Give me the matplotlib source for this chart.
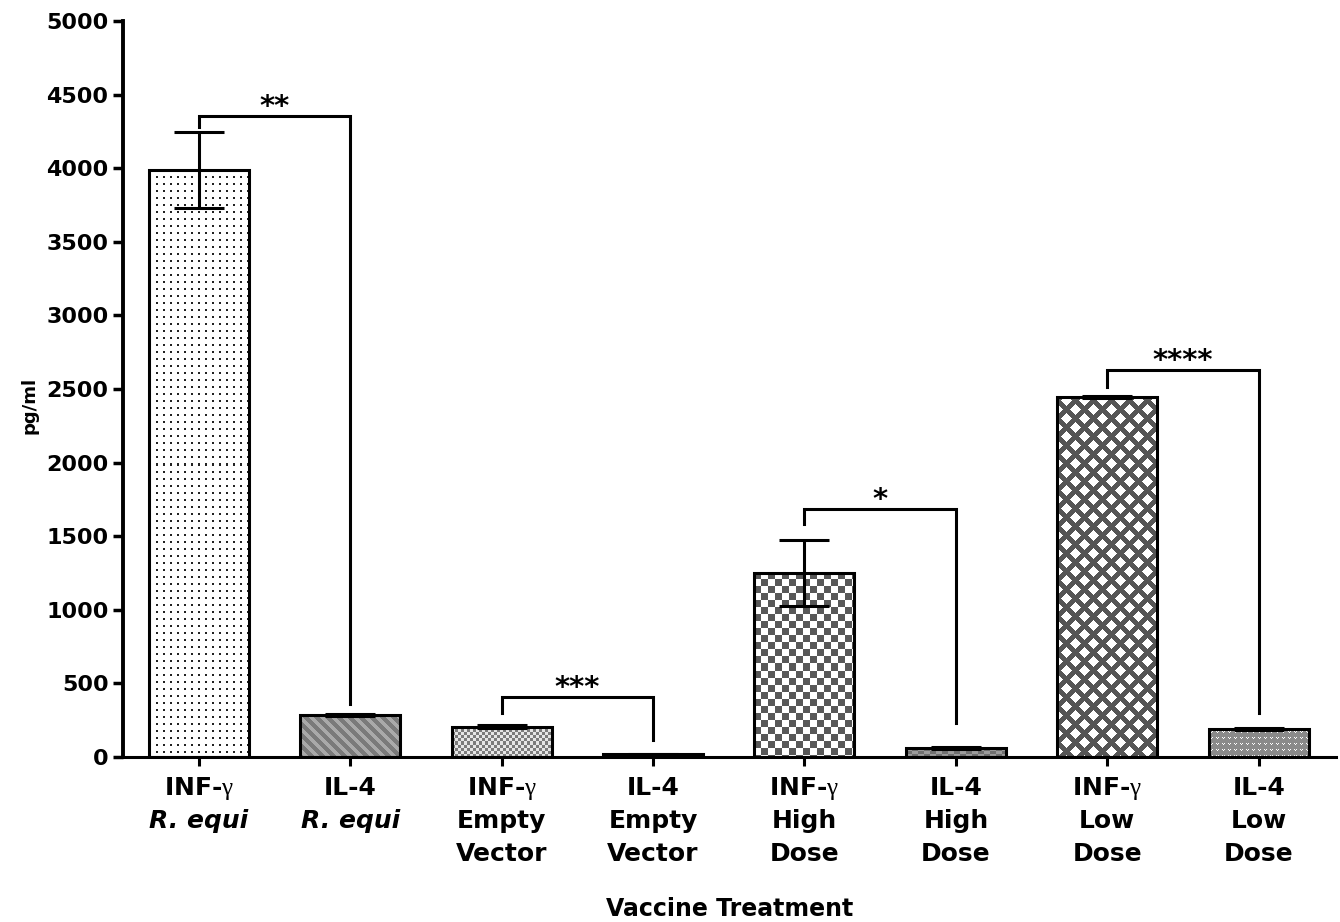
import numpy as np
import matplotlib
matplotlib.use('Agg')
import matplotlib.pyplot as plt

plt.rcParams['font.family'] = ['DejaVu Sans']
plt.rcParams['mathtext.fontset'] = 'custom'
plt.rcParams['mathtext.rm'] = 'Liberation Serif'

# data
cytokines = ['INF-$\\mathrm{\\gamma}$', 'IL-4'] * 4
treatments = ['R. equi', 'R. equi', 'Empty\nVector', 'Empty\nVector',
              'High\nDose', 'High\nDose', 'Low\nDose', 'Low\nDose']
italic_treatment = [True, True, False, False, False, False, False, False]
values = [3990, 285, 205, 18, 1250, 60, 2445, 190]
errors = [258, 8, 10, 4, 225, 6, 8, 8]
patterns = ['dots', 'stripes', 'finechecker', 'smallgray',
            'checker', 'smallgray', 'diamond', 'vdots']

# significance brackets
sig_left = [0, 2, 4, 6]
sig_right = [1, 3, 5, 7]
sig_top = [4355, 408, 1685, 2630]
sig_left_end = [4280, 299, 1583, 2514]
sig_right_end = [360, 115, 231, 300]
sig_text = ['**', '***', '*', '****']

yticks = np.arange(0, 5001, 500)

W, H, DPI = 1340, 922, 100
fig = plt.figure(figsize=(W / DPI, H / DPI), dpi=DPI)
ax_l, ax_b, ax_w, ax_h = 123 / W, 165 / H, 1213 / W, 736 / H
ax = fig.add_axes([ax_l, ax_b, ax_w, ax_h])
xlim = (-0.5, 7.51)
ylim = (0, 5000)
ax.set_xlim(*xlim)
ax.set_ylim(*ylim)

px_x = ax_w * W / (xlim[1] - xlim[0])
px_y = ax_h * H / (ylim[1] - ylim[0])


def hexrgb(c):
    return np.array(matplotlib.colors.to_rgb(c))


def texture(kind, h, w):
    i, j = np.mgrid[0:h, 0:w]
    white = hexrgb('white')
    if kind == 'dots':
        mask = (i % 7 < 2) & (j % 7 < 2)
        fg, bg = hexrgb('#222222'), white
    elif kind == 'stripes':
        mask = (i - j) % 11 < 5
        fg, bg = hexrgb('#a9a9a9'), hexrgb('#7a7a7a')
    elif kind == 'finechecker':
        mask = (i // 3 + j // 3) % 2 == 0
        fg, bg = hexrgb('#7c7c7c'), hexrgb('#e6e6e6')
    elif kind == 'checker':
        mask = (i // 7 + j // 7) % 2 == 0
        fg, bg = hexrgb('#585858'), white
    elif kind == 'diamond':
        mask = ((i + j) % 18 < 7) | ((i - j) % 18 < 7)
        fg, bg = hexrgb('#555555'), white
    elif kind == 'vdots':
        mask = ((i % 6 == 2) & ((j % 6 == 1) | (j % 6 == 3))) | ((i % 6 == 3) & (j % 6 == 2))
        fg, bg = white, hexrgb('#8a8a8a')
    else:
        mask = (i // 3 + j // 6) % 2 == 0
        fg, bg = hexrgb('#9c9c9c'), hexrgb('#707070')
    img = np.where(mask[..., None], fg, bg)
    return img


x = np.arange(len(values))
bar_w = 0.66
bars = ax.bar(x, values, width=bar_w, facecolor='none', edgecolor='black',
              linewidth=2.2, zorder=3)

for b, kind in zip(bars, patterns):
    l = b.get_x()
    r = l + b.get_width()
    t = b.get_height()
    hp = max(int(round(t * px_y)), 1)
    wp = max(int(round((r - l) * px_x)), 1)
    im = ax.imshow(texture(kind, hp, wp), extent=(l, r, 0, t), aspect='auto',
                   interpolation='nearest', zorder=2)
    im.set_clip_path(b)

ax.errorbar(x, values, yerr=errors, fmt='none', ecolor='black',
            elinewidth=2.2, capsize=18, capthick=2.2, zorder=4)

# brackets
for a, b_, top, le, re, s in zip(sig_left, sig_right, sig_top,
                                 sig_left_end, sig_right_end, sig_text):
    ax.plot([x[a], x[a], x[b_], x[b_]], [le, top, top, re], color='black',
            linewidth=2.2, solid_joinstyle='miter', zorder=5)
    ax.annotate(s, xy=((x[a] + x[b_]) / 2, top), xytext=(0, 0.5),
                textcoords='offset points', ha='center', va='baseline',
                fontsize=21, fontweight='bold')

ax.set_xlim(*xlim)
ax.set_ylim(*ylim)

for side in ['top', 'right']:
    ax.spines[side].set_visible(False)
ax.spines['left'].set_linewidth(2.8)
ax.spines['bottom'].set_linewidth(2.2)

ax.set_yticks(yticks)
ax.set_yticklabels([str(v) for v in yticks], fontsize=16, fontweight='bold')
ax.set_xticks(x)
ax.set_xticklabels([''] * len(x))
ax.tick_params(axis='y', length=7.5, width=2.5, pad=3)
ax.tick_params(axis='x', length=6.5, width=2.2)

# category labels, line by line
for xi, cyt, trt, it in zip(x, cytokines, treatments, italic_treatment):
    ax.annotate(cyt, xy=(xi, 0), xycoords=('data', 'axes fraction'),
                xytext=(0, -27.5), textcoords='offset points', ha='center',
                va='baseline', fontsize=18, fontweight='bold')
    for k, line in enumerate(trt.split('\n')):
        ax.annotate(line, xy=(xi, 0), xycoords=('data', 'axes fraction'),
                    xytext=(0, -51.3 - 23.4 * k), textcoords='offset points',
                    ha='center', va='baseline', fontsize=18, fontweight='bold',
                    fontstyle='italic' if it else 'normal')

fig.text((123 + 1213 / 2) / W, 1 - 909 / H, 'Vaccine Treatment', ha='center',
         va='center', fontsize=17, fontweight='bold')
fig.text(30 / W, 1 - 405 / H, 'pg/ml', ha='center', va='center', rotation=90,
         fontsize=13, fontweight='bold')

fig.savefig('out.png', dpi=DPI)
